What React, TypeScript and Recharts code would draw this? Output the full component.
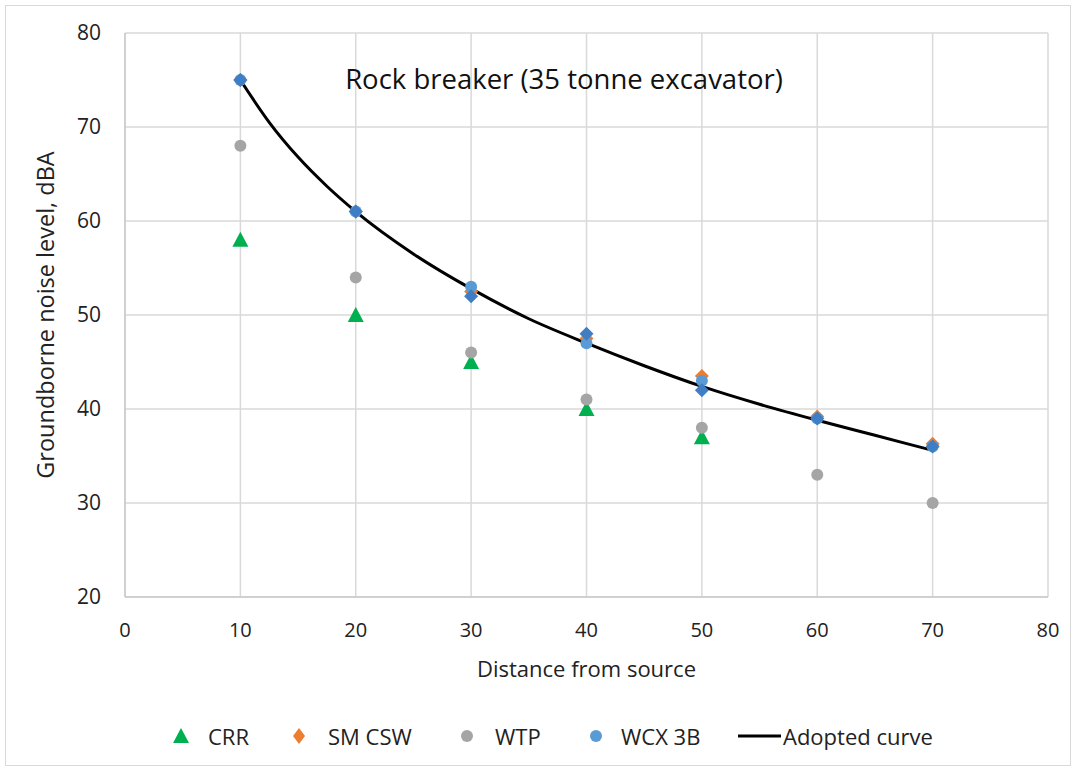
import React from "react";
import {
  CartesianGrid,
  ComposedChart,
  Line,
  Scatter,
  XAxis,
  YAxis,
} from "recharts";

// ── data ──
const DIST = [10, 20, 30, 40, 50, 60, 70];
const CRR = [58, 50, 45, 40, 37];
const SM_CSW = [75, 61, 52.5, 47.5, 43.5, 39.2, 36.3];
const WTP = [68, 54, 46, 41, 38, 33, 30];
const WCX_3B = [75, 61, 53, 47, 43, 39, 36];
const WCX_3B_ALT = [75, 61, 52, 48, 42, 39, 36];

const CURVE_X = [10, 12.5, 15, 17.5, 20, 25, 30, 35, 40, 45, 50, 55, 60, 65, 70];
const CURVE_Y = [75, 70.5, 66.8, 63.7, 61, 56.5, 52.8, 49.6, 47, 44.6, 42.4, 40.5, 38.8, 37.2, 35.6];

const X_TICKS = [0, 10, 20, 30, 40, 50, 60, 70, 80];
const Y_TICKS = [20, 30, 40, 50, 60, 70, 80];

const GREEN = "#00B050";
const ORANGE = "#ED7D31";
const GREY = "#A5A5A5";
const BLUE = "#5B9BD5";
const DARK_BLUE = "#3F7DC4";

const FONT = "'Open Sans', 'Noto Sans', sans-serif";

const toPts = (ys: number[]) => ys.map((y, i) => ({ x: DIST[i], y }));
const curve = CURVE_X.map((x, i) => ({ x, y: CURVE_Y[i] }));

const Tri = (p: any) => (
  <polygon
    points={`${p.cx},${p.cy - 8} ${p.cx + 8},${p.cy + 7} ${p.cx - 8},${p.cy + 7}`}
    fill={GREEN}
  />
);
const Diamond = (color: string) => (p: any) => (
  <polygon
    points={`${p.cx},${p.cy - 7} ${p.cx + 7},${p.cy} ${p.cx},${p.cy + 7} ${p.cx - 7},${p.cy}`}
    fill={color}
  />
);
const Dot = (color: string) => (p: any) => <circle cx={p.cx} cy={p.cy} r={6} fill={color} />;

// legend entries: icon centre x and text left x as in the reference
const LEGEND = [
  { label: "CRR", icon: "tri", color: GREEN, ix: 181, tx: 208 },
  { label: "SM CSW", icon: "diamond", color: ORANGE, ix: 299, tx: 328 },
  { label: "WTP", icon: "dot", color: GREY, ix: 467, tx: 495 },
  { label: "WCX 3B", icon: "dot", color: BLUE, ix: 596, tx: 621 },
  { label: "Adopted curve", icon: "line", color: "#000", ix: 759, tx: 783 },
];

function LegendRow() {
  const cy = 736;
  return (
    <svg width={1076} height={770} style={{ position: "absolute", left: 0, top: 0 }}>
      {LEGEND.map((l) => {
        if (l.icon === "tri")
          return <polygon key={l.label} points={`${l.ix},${cy - 8} ${l.ix + 8},${cy + 7} ${l.ix - 8},${cy + 7}`} fill={l.color} />;
        if (l.icon === "diamond")
          return <polygon key={l.label} points={`${l.ix},${cy - 8} ${l.ix + 6},${cy} ${l.ix},${cy + 8} ${l.ix - 6},${cy}`} fill={l.color} />;
        if (l.icon === "dot") return <circle key={l.label} cx={l.ix} cy={cy} r={6} fill={l.color} />;
        return <line key={l.label} x1={l.ix - 21} x2={l.ix + 22} y1={cy} y2={cy} stroke={l.color} strokeWidth={3} />;
      })}
      {LEGEND.map((l) => (
        <text
          key={l.label + "t"}
          x={l.tx}
          y={cy}
          dominantBaseline="central"
          fontFamily={FONT}
          fontSize={22}
          fill="#222"
        >
          {l.label}
        </text>
      ))}
    </svg>
  );
}

export default function App() {
  return (
    <div style={{ position: "absolute", left: 0, top: 0, width: 1076, height: 770, background: "#fff" }}>
      <div
        style={{
          position: "absolute",
          left: 5,
          top: 5,
          width: 1064,
          height: 759,
          border: "1px solid #D9D9D9",
        }}
      />
      <ComposedChart
        width={1076}
        height={770}
        margin={{ top: 33, right: 28, bottom: 143, left: 0 }}
        style={{ position: "absolute", left: 0, top: 0 }}
      >
        <CartesianGrid stroke="#D9D9D9" strokeWidth={1.5} />
        <XAxis
          type="number"
          dataKey="x"
          domain={[0, 80]}
          ticks={X_TICKS}
          interval={0}
          height={30}
          stroke="#BFBFBF"
          tickLine={false}
          tickSize={0}
          tickMargin={26}
          tick={{ fontSize: 20, fill: "#222", fontFamily: FONT }}
          label={{
            value: "Distance from source",
            position: "insideBottom",
            offset: -50,
            style: { fontSize: 22, fill: "#222", fontFamily: FONT },
          }}
        />
        <YAxis
          type="number"
          dataKey="y"
          domain={[20, 80]}
          ticks={Y_TICKS}
          interval={0}
          width={125}
          stroke="#BFBFBF"
          tickLine={false}
          tickSize={0}
          tickMargin={24}
          tick={{ fontSize: 21, fill: "#222", fontFamily: FONT }}
          label={{
            value: "Groundborne noise level, dBA",
            angle: -90,
            position: "insideLeft",
            offset: 46,
            style: { fontSize: 23.5, fill: "#222", fontFamily: FONT, textAnchor: "middle" },
          }}
        />
        <Scatter data={toPts(CRR)} shape={Tri} isAnimationActive={false} />
        <Scatter data={toPts(WTP)} shape={Dot(GREY)} isAnimationActive={false} />
        <Scatter data={toPts(SM_CSW)} shape={Diamond(ORANGE)} isAnimationActive={false} />
        <Scatter data={toPts(WCX_3B)} shape={Dot(BLUE)} isAnimationActive={false} />
        <Scatter data={toPts(WCX_3B_ALT)} shape={Diamond(DARK_BLUE)} isAnimationActive={false} />
        <Line
          data={curve}
          dataKey="y"
          type="monotone"
          stroke="#000"
          strokeWidth={3}
          dot={false}
          isAnimationActive={false}
        />
      </ComposedChart>
      <div
        style={{
          position: "absolute",
          left: 0,
          width: 1128,
          top: 60,
          textAlign: "center",
          fontFamily: FONT,
          fontSize: 27.5,
          color: "#111",
        }}
      >
        Rock breaker (35 tonne excavator)
      </div>
      <LegendRow />
    </div>
  );
}
